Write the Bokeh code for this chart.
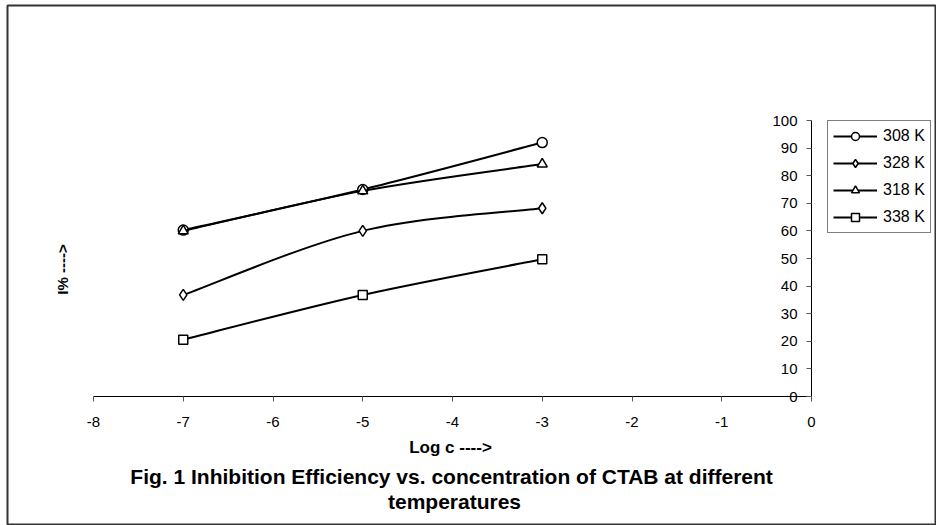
import math
from bokeh.plotting import figure
from bokeh.models import (Range1d, LinearAxis, FixedTicker, Legend, LegendItem,
                          Label, PrintfTickFormatter)
from bokeh.embed import file_html
from bokeh.resources import INLINE

# ---- data ----
log_c = [-7, -5, -3]
series_names = ["308 K", "328 K", "318 K", "338 K"]
ie_308 = [60.3, 75.0, 92.0]
ie_328 = [36.8, 60.0, 68.2]
ie_318 = [60.0, 74.5, 84.2]
ie_338 = [20.6, 36.8, 49.7]
markers = ["circle", "diamond", "triangle", "square"]
x_ticks = [-8, -7, -6, -5, -4, -3, -2, -1, 0]
y_ticks = [0, 10, 20, 30, 40, 50, 60, 70, 80, 90, 100]
x_title = "Log c ---->"
y_title = "I% ---->"
caption_1 = "Fig. 1  Inhibition Efficiency vs. concentration of CTAB at different"
caption_2 = "temperatures"

FONT = "Liberation Sans"
W, H = 936, 525

# ---- layout (pixels) ----
FL, FR, FT, FB = 7, 935, 5, 524          # outer box = plot frame
AX_L, AX_R = 93.0, 811.0                 # pixel of x=-8 and x=0
AX_B, AX_T = 396.0, 120.0                # pixel of y=0 and y=100
sx = (AX_R - AX_L) / 8.0
sy = (AX_B - AX_T) / 100.0


def px_x(px):
    return -8 + (px - AX_L) / sx


def px_y(py):
    return (AX_B - py) / sy


p = figure(width=W, height=H, output_backend="svg", toolbar_location=None,
           x_range=Range1d(px_x(FL), px_x(FR)), y_range=Range1d(px_y(FB), px_y(FT)),
           x_axis_type=None, y_axis_type=None,
           min_border_left=FL, min_border_right=W - FR, min_border_top=FT,
           min_border_bottom=H - FB)
p.grid.visible = False
p.outline_line_color = "#333333"
p.outline_line_width = 2
p.background_fill_color = "white"
p.border_fill_color = "white"

# x axis at y = 0
xa = LinearAxis(ticker=FixedTicker(ticks=x_ticks), fixed_location=0,
                bounds=(x_ticks[0], x_ticks[-1]),
                formatter=PrintfTickFormatter(format="%d"))
xa.axis_line_color = "black"
xa.major_tick_line_color = "#555555"
xa.major_tick_out = 5
xa.major_tick_in = 0
xa.minor_tick_line_color = None
xa.major_label_standoff = 15
xa.major_label_text_font = FONT
xa.major_label_text_font_size = "15px"
xa.major_label_text_color = "black"
p.add_layout(xa, "below")

# y axis at x = 0
ya = LinearAxis(ticker=FixedTicker(ticks=y_ticks), fixed_location=0,
                bounds=(y_ticks[0], y_ticks[-1]),
                formatter=PrintfTickFormatter(format="%d"))
ya.axis_line_color = "black"
ya.major_tick_line_color = "#555555"
ya.major_tick_out = 5
ya.major_tick_in = 0
ya.minor_tick_line_color = None
ya.major_label_standoff = 9
ya.major_label_text_font = FONT
ya.major_label_text_font_size = "15px"
ya.major_label_text_color = "black"
p.add_layout(ya, "left")

# axis titles and caption
p.add_layout(Label(x=px_x(450), y=px_y(447), text=x_title, text_font=FONT,
                   text_font_size="17px", text_font_style="bold", text_color="black",
                   text_align="center", text_baseline="middle"))
p.add_layout(Label(x=px_x(62), y=px_y(269), text=y_title, angle=math.pi / 2,
                   text_font=FONT, text_font_size="15px", text_font_style="bold",
                   text_color="black", text_align="center", text_baseline="middle"))
p.add_layout(Label(x=px_x(454), y=px_y(476), text=caption_1, text_font=FONT,
                   text_font_size="21px", text_font_style="bold", text_color="black",
                   text_align="center", text_baseline="middle"))
p.add_layout(Label(x=px_x(454), y=px_y(501), text=caption_2, text_font=FONT,
                   text_font_size="21px", text_font_style="bold", text_color="black",
                   text_align="center", text_baseline="middle"))

# series (smoothed lines through the points)
all_vals = [ie_308, ie_328, ie_318, ie_338]
sizes = {"circle": 10, "diamond": 11, "triangle": 10, "square": 9}
items = []
for name, vals, mk in zip(series_names, all_vals, markers):
    n = len(log_c)
    xs = log_c
    ys = vals
    x0, y0, x1, y1, cx0, cy0, cx1, cy1 = [], [], [], [], [], [], [], []
    for i in range(n - 1):
        pm = max(i - 1, 0)
        pp = min(i + 2, n - 1)
        x0.append(xs[i]); y0.append(ys[i])
        x1.append(xs[i + 1]); y1.append(ys[i + 1])
        cx0.append(xs[i] + (xs[i + 1] - xs[pm]) / 6.0)
        cy0.append(ys[i] + (ys[i + 1] - ys[pm]) / 6.0)
        cx1.append(xs[i + 1] - (xs[pp] - xs[i]) / 6.0)
        cy1.append(ys[i + 1] - (ys[pp] - ys[i]) / 6.0)
    rl = p.bezier(x0=x0, y0=y0, x1=x1, y1=y1, cx0=cx0, cy0=cy0, cx1=cx1, cy1=cy1,
                  line_color="black", line_width=2)
    rs = p.scatter(xs, ys, marker=mk, size=sizes[mk], fill_color="white",
                   line_color="black", line_width=1.5)
    items.append(LegendItem(label=name, renderers=[rl, rs]))

GLYPH_H, SPACING, PAD = 20, 7, 5
leg_h = 4 * GLYPH_H + 3 * SPACING + 2 * PAD
legend = Legend(items=items, location=(827 - FL, (FB - 122) - leg_h),
                orientation="vertical",
                glyph_width=44, glyph_height=GLYPH_H, label_height=GLYPH_H,
                spacing=SPACING, padding=PAD, margin=0, label_standoff=6,
                label_text_font=FONT, label_text_font_size="16px",
                label_text_color="black",
                border_line_color="black", border_line_width=1,
                background_fill_color="white", background_fill_alpha=1)
p.add_layout(legend, "center")

open("out.html", "w").write(file_html(p, INLINE))
